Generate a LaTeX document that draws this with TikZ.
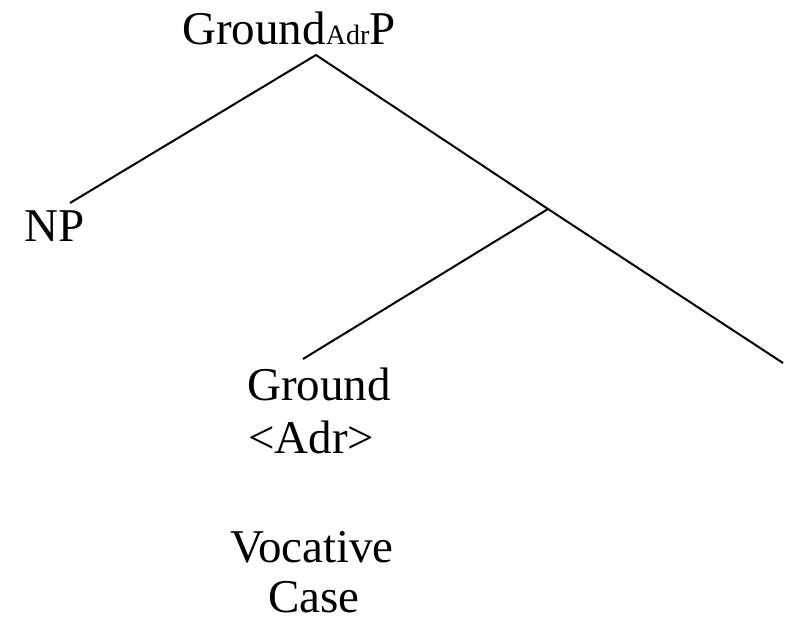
\documentclass[tikz,border=0pt]{standalone}
\usepackage{fontspec}
\setmainfont{Liberation Serif}
\usetikzlibrary{positioning}
\tikzset{
  lbl/.style={inner sep=0pt,font=\fontsize{47}{53}\selectfont},
  br/.style={line width=2pt},
}
\newcommand{\subadr}{{\fontsize{28}{30}\selectfont Adr}}

\begin{document}
\begin{tikzpicture}[x=1pt, y=-1pt]
  \useasboundingbox (0,0) rectangle (787,627);
  % The labels, set on their baselines.
  \node[lbl, anchor=base west] (root) at (182,44) {Ground\subadr P};
  \node[lbl, anchor=base west] (np) at (24,241) {NP};
  \node[lbl, anchor=base west] (grnd) at (247,400) {Ground};
  \node[lbl, anchor=base west] (adr) at (248,453) {<Adr>};
  \node[lbl, anchor=base] (voc) at (312,562) {Vocative};
  \node[lbl, anchor=base] (case) at (314,612) {Case};
  % Branch points: the branches stop short of the labels.
  \coordinate (apex) at (316,55);
  \coordinate (npend) at (70,203);
  \coordinate (mid) at (548,209);
  \coordinate (gend) at (303,359);
  \coordinate (rend) at (783,363);
  \draw[br] (npend) -- (apex) -- (mid) -- (rend);
  \draw[br] (gend) -- (mid);
\end{tikzpicture}
\end{document}
